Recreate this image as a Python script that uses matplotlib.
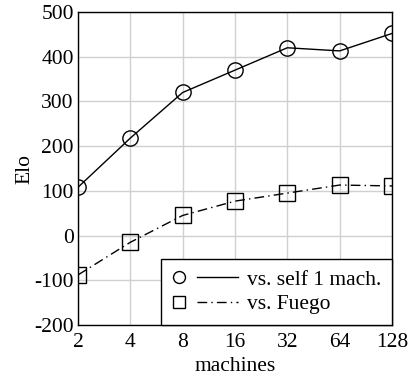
import matplotlib
matplotlib.use("Agg")
import matplotlib.pyplot as plt
from matplotlib.lines import Line2D
from matplotlib.legend_handler import HandlerBase

plt.rcParams['font.family'] = ['Liberation Serif', 'DejaVu Serif']
plt.rcParams['axes.unicode_minus'] = False

machines = [2, 4, 8, 16, 32, 64, 128]
tick_labels = ["2", "4", "8", "16", "32", "64", "128"]
elo_self = [108, 218, 320, 370, 420, 413, 452]
elo_fuego = [-88, -15, 45, 77, 95, 113, 111]

FS = 15.5
DASH = (7, 3, 1, 3)


class MarkerThenLine(HandlerBase):
    """Legend key with the marker on the left and the line sample to its right."""

    def create_artists(self, legend, orig_handle, xdescent, ydescent,
                       width, height, fontsize, trans):
        y = height / 2 - ydescent
        x0 = -xdescent
        ms = 8.6
        mk = Line2D([x0 + ms / 2 + 1], [y], linestyle='none',
                    marker=orig_handle.get_marker(), markersize=ms,
                    markerfacecolor='none', markeredgecolor='black',
                    markeredgewidth=1.0)
        ln = Line2D([x0 + 0.38 * width, x0 + width], [y, y], color='black',
                    lw=1.0, linestyle=orig_handle.get_linestyle())
        if orig_handle.get_label() == 'vs. Fuego':
            ln.set_dashes(DASH)
        for a in (mk, ln):
            a.set_transform(trans)
        return [mk, ln]


fig = plt.figure(figsize=(4.08, 3.78), dpi=100)
ax = fig.add_axes([78/408, 1 - 325/378, (392-78)/408, (325-12)/378])

l1, = ax.plot(machines, elo_self, color='black', lw=1.0, marker='o', markersize=11,
              markerfacecolor='none', markeredgewidth=1.0, label='vs. self 1 mach.',
              zorder=3)
l2, = ax.plot(machines, elo_fuego, color='black', lw=1.0, marker='s', markersize=11,
              markerfacecolor='none', markeredgewidth=1.0, dashes=DASH,
              label='vs. Fuego', zorder=3)

ax.set_xscale('log', base=2)
ax.set_xlim(2, 128)
ax.set_xticks(machines)
ax.set_xticklabels(tick_labels)
ax.minorticks_off()
ax.set_ylim(-200, 500)
ax.set_yticks(range(-200, 501, 100))
ax.grid(True, color='#d0d0d0', lw=1.0)
ax.tick_params(length=0, labelsize=FS)
ax.tick_params(axis='x', pad=6)
ax.tick_params(axis='y', pad=3)
for s in ax.spines.values():
    s.set_linewidth(1.0)

ax.set_xlabel('machines', fontsize=FS, labelpad=3.5)
ax.set_ylabel('Elo', fontsize=FS, labelpad=0)

handler = MarkerThenLine()
leg = ax.legend(handles=[l1, l2], loc='lower right', fontsize=FS, frameon=True,
                fancybox=False, edgecolor='black', borderaxespad=0,
                handlelength=3.1, handletextpad=0.4, borderpad=0.5,
                labelspacing=0.2,
                handler_map={l1: handler, l2: handler})
leg.get_frame().set_linewidth(1.0)
leg.get_frame().set_alpha(1)

fig.savefig('out.png', dpi=100)
